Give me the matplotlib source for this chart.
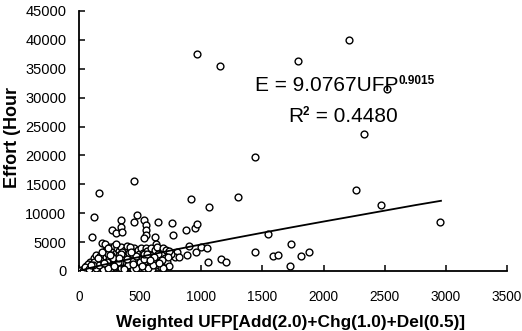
#!/usr/bin/env python
import matplotlib
matplotlib.use('Agg')
from matplotlib import pyplot as plt

plt.rcParams['font.family'] = ['Liberation Sans', 'DejaVu Sans']

# projects: weighted UFP vs effort (hours)
UFP = [
    # sparse / outliers
    969, 1156, 2206, 1791, 2515, 2328, 1441, 448, 163, 122, 106,
    912, 1066, 1302, 2263, 2466, 2955, 1546, 1734, 1587, 1628, 1726,
    1815, 1880, 757, 765, 871, 952, 969, 798, 781, 814, 887, 960,
    1001, 1050, 1058, 1164, 1205, 903, 1441,
    269, 301, 342, 342, 350, 448, 472, 529, 545, 545, 545, 529,
    643, 619, 627, 635, 667, 692, 708,
    # dense cluster
    20, 40, 60, 80, 90, 50, 100, 30, 70, 110,
    120, 130, 140, 150, 160, 170, 180, 190, 200, 150, 175, 195, 125, 187,
    210, 215, 220, 230, 240, 250, 255, 260, 270, 280, 285, 290, 295, 300, 245, 265, 225,
    305, 310, 320, 325, 330, 340, 345, 350, 360, 365, 370, 380, 385, 390, 395, 335, 355,
    405, 410, 420, 425, 430, 440, 450, 455, 460, 470, 480, 485, 490, 495, 415, 445,
    505, 510, 520, 525, 530, 540, 550, 555, 560, 570, 575, 585, 590, 595, 600,
    610, 620, 630, 640, 650, 660, 670, 680, 690, 700, 710, 720, 740, 750, 735,
    # more of the cluster
    45, 85, 135, 165, 205, 235, 275, 315, 345, 375, 400, 435, 465, 500, 535,
    565, 605, 645, 685, 725, 115, 185, 255, 325, 395, 465, 535, 615, 675, 95,
    155, 235, 285, 365, 425, 515, 580, 655, 205, 305, 440, 560,
]
EFFORT = [
    37560, 35480, 39980, 36350, 31500, 23700, 19700, 15580, 13500, 9350, 5900,
    12460, 11080, 12800, 14000, 11400, 8480, 6400, 4670, 2600, 2770, 870,
    2600, 3290, 8300, 6230, 7100, 7440, 8130, 3290, 2420, 2420, 2770, 3290,
    4150, 3980, 1560, 2080, 1560, 4330, 3290,
    7100, 6580, 8830, 7620, 6750, 8480, 9690, 8830, 7960, 7100, 6230, 5710,
    8480, 5880, 4670, 3980, 3810, 2420, 1380,
    100, 300, 800, 200, 1500, 500, 600, 50, 1200, 300,
    2200, 1000, 2700, 400, 1800, 2600, 800, 1500, 300, 1200, 2000, 2900, 1600, 4850,
    3500, 4600, 2400, 1000, 3000, 4200, 1800, 600, 3800, 2600, 1400, 4300, 700, 3200, 2100, 2800, 1500,
    2000, 4000, 1100, 3500, 2700, 600, 4200, 1800, 3000, 2300, 900, 3700, 1400, 2600, 4400, 1500, 3300,
    2000, 3100, 700, 3800, 1500, 2500, 4000, 1100, 3300, 2000, 600, 3700, 2900, 1500, 4200, 300,
    2300, 3900, 1200, 3200, 500, 2700, 4000, 1700, 3400, 900, 2400, 3900, 1400, 300, 2800,
    2000, 3600, 1000, 4200, 2500, 1500, 700, 3100, 4000, 2200, 3600, 1500, 800, 2900, 3400,
    700, 400, 500, 1100, 1300, 500, 2200, 1500, 3000, 600, 1000, 1900, 500, 1500, 2000,
    600, 1100, 3000, 500, 2400, 1000, 3300, 2800, 2200, 2000, 2600, 3000, 2400, 1900, 1000,
    2300, 3900, 800, 300, 3300, 900, 1900, 1400, 1300, 4600, 1200, 3000,
]

# power trend line
TREND_X = [0, 100, 250, 500, 750, 1000, 1250, 1500, 1750, 2000, 2250, 2500, 2750, 2960]
TREND_Y = [0, 580, 1320, 2460, 3550, 4600, 5620, 6620, 7600, 8560, 9500, 10450, 11400, 12150]

X_TICKS = [0, 500, 1000, 1500, 2000, 2500, 3000, 3500]
Y_TICKS = [0, 5000, 10000, 15000, 20000, 25000, 30000, 35000, 40000, 45000]


def main():
    fig = plt.figure(figsize=(5.22, 3.31), dpi=100)
    ax = fig.add_axes([79 / 522, 1 - 271 / 331, 428 / 522, 260 / 331])

    ax.scatter(UFP, EFFORT, s=24, facecolors='white', edgecolors='black', linewidths=1.0, zorder=3)
    ax.plot(TREND_X, TREND_Y, color='black', lw=1.3, zorder=4)

    ax.set_xlim(0, 3500)
    ax.set_ylim(0, 45000)
    ax.set_xticks(X_TICKS)
    ax.set_yticks(Y_TICKS)
    ax.spines['top'].set_visible(False)
    ax.spines['right'].set_visible(False)
    for s in ('left', 'bottom'):
        ax.spines[s].set_linewidth(1.3)
    ax.tick_params(axis='both', direction='in', length=4, width=1.1)
    ax.tick_params(axis='x', pad=14, labelsize=9.8)
    ax.tick_params(axis='y', pad=9, labelsize=10.5)

    eq = ax.text(1441, 31150, 'E = 9.0767UFP', fontsize=15, ha='left', va='baseline')
    ax.annotate('0.9015', xy=(1.0, 0.6), xycoords=eq, fontsize=8.5, fontweight='bold',
                ha='left', va='baseline')
    r2 = ax.text(1709, 25790, 'R', fontsize=15, ha='left', va='baseline')
    sq = ax.annotate('2', xy=(1.0, 0.6), xycoords=r2, fontsize=8.5, fontweight='bold',
                     ha='left', va='baseline')
    ax.annotate(' = 0.4480', xy=(1.0, 25790), xycoords=(sq, 'data'), fontsize=15,
                ha='left', va='baseline')

    fig.text(291 / 522, 1 - 322 / 331, 'Weighted UFP[Add(2.0)+Chg(1.0)+Del(0.5)]',
             fontsize=12.4, fontweight='bold', ha='center', va='center')
    fig.text(13 / 522, 1 - 137 / 331, 'Effort (Hour', fontsize=13, fontweight='bold',
             rotation=90, ha='center', va='center')

    fig.savefig('out.png', dpi=100)


if __name__ == '__main__':
    main()
